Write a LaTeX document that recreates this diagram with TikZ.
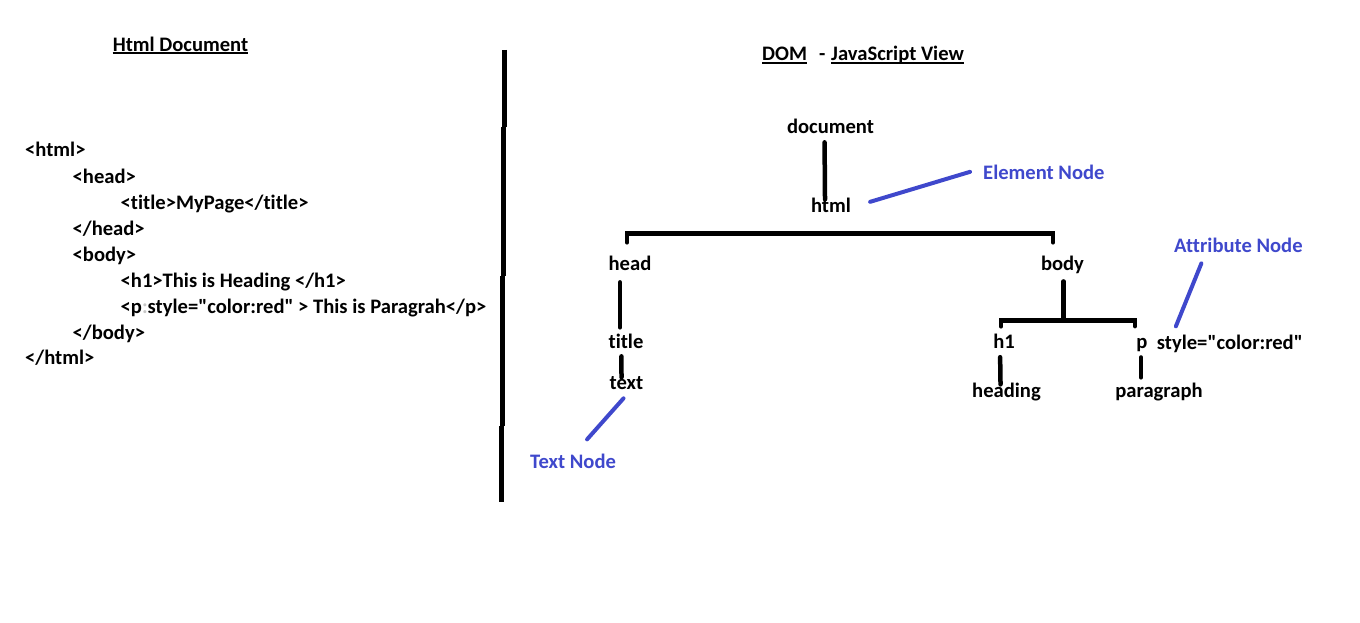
\documentclass[tikz,border=0pt]{standalone}
\usepackage{fontspec}
\setmainfont{Carlito}[Ligatures={TeXOff,NoCommon}]
\definecolor{indigo}{RGB}{63,72,204}
\begin{document}
\begin{tikzpicture}[x=1pt,y=-1pt,
    txt/.style={inner sep=0pt,font=\fontsize{20.6}{24}\selectfont\bfseries},
    note/.style={txt,text=indigo},
    tree/.style={line width=4.5pt,line cap=round},
    pointer/.style={indigo,line width=4pt,line cap=round},
    divider/.style={line width=5pt},
    uline/.style={line width=1.8pt}]
  \useasboundingbox (0,0) rectangle (1360,623);
  \node[txt,anchor=base] (hdoc) at (180.5,51.5) {Html Document};
  \draw[uline] ([yshift=-1.5pt]hdoc.base west) -- ([yshift=-1.5pt]hdoc.base east);
  \node[txt,anchor=base west] (l1) at (25,157) {<html>};
  \node[txt,anchor=base west] (l2) at (72.5,183) {<head>};
  \node[txt,anchor=base west] (l3) at (120.5,209) {<title>MyPage</title>};
  \node[txt,anchor=base west] (l4) at (72.5,235) {</head>};
  \node[txt,anchor=base west] (l5) at (72.5,261) {<body>};
  \node[txt,anchor=base west] (l6) at (120.5,287) {<h1>This is Heading </h1>};
  \node[txt,anchor=base west] (l7) at (120.5,313)
    {<p\textcolor{gray!45}{:}style="color:red" > This is Paragrah</p>};
  \node[txt,anchor=base west] (l8) at (72.5,339) {</body>};
  \node[txt,anchor=base west] (l9) at (25,364) {</html>};
  \draw[divider] (504.3,50) -- (504.3,127);
  \draw[divider] (503.3,127) -- (503.3,276);
  \draw[divider] (502.5,276) -- (502.5,426);
  \draw[divider] (501.5,426) -- (501.5,502);
  \node[txt,anchor=base west] (dom) at (762,61) {DOM};
  \node[txt,anchor=base west] (dash) at (819,61) {-};
  \node[txt,anchor=base west] (jsview) at (831,61) {JavaScript View};
  \draw[uline] ([yshift=-1.8pt]dom.base west) -- ([yshift=-1.8pt]dom.base east);
  \draw[uline] ([yshift=-1.8pt]jsview.base west) -- ([yshift=-1.8pt]jsview.base east);
  \node[txt,anchor=base] (document) at (830.5,134) {document};
  \node[txt,anchor=base] (html) at (831,212) {html};
  \node[txt,anchor=base] (head) at (630,270) {head};
  \node[txt,anchor=base] (body) at (1062.5,270) {body};
  \node[txt,anchor=base] (title) at (626,348) {title};
  \node[txt,anchor=base] (text) at (626.5,389) {text};
  \node[txt,anchor=base] (h1) at (1004,348) {h1};
  \node[txt,anchor=base] (heading) at (1006.5,397) {heading};
  \node[txt,anchor=base] (p) at (1142,348) {p};
  \node[txt,anchor=base] (paragraph) at (1159,397) {paragraph};
  \node[txt,anchor=base west] (style) at (1156.7,349) {style="color:red"};
  \node[note,anchor=base west] (enode) at (983,179) {Element Node};
  \node[note,anchor=base west] (tnode) at (530,468) {Text Node};
  \node[note,anchor=base west] (anode) at (1174,252) {Attribute Node};
  \draw[tree,shorten <=8pt,shorten >=-2pt] ([xshift=-6pt]document.south) -- ([xshift=-6pt]html.north);
  \draw[tree] ([shift={(-3pt,13pt)}]head.north) -- ++(0,-9) -| ([shift={(-9.5pt,13pt)}]body.north);
  \draw[tree,shorten <=12pt,shorten >=6pt] ([xshift=-10pt]head.south) -- ([xshift=-6pt]title.north);
  \draw[tree,shorten <=8pt,shorten >=-1.5pt] ([xshift=-4.6pt]title.south) -- ([xshift=-5pt]text.north);
  \draw[tree,shorten <=8pt] ([xshift=1pt]body.south) -- ([xshift=1pt,yshift=13pt]body.south |- h1.north);
  \draw[tree] ([shift={(-3pt,7pt)}]h1.north) -- ++(0,-6) -| ([shift={(-7pt,11.5pt)}]p.north);
  \draw[tree,shorten <=9pt,shorten >=-2pt] ([xshift=-4pt]h1.south) -- ([xshift=-6pt]heading.north);
  \draw[tree,shorten <=6pt,shorten >=5pt] ([xshift=-1pt]p.south) -- ([xshift=-18pt]paragraph.north);
  \draw[pointer] ([shift={(19pt,3pt)}]html.east) -- ([xshift=-13pt]enode.west);
  \draw[pointer] ([shift={(-3pt,-9pt)}]text.south) -- ([shift={(14pt,14pt)}]tnode.north);
  \draw[pointer] ([shift={(-37pt,-11pt)}]anode.south) -- ([shift={(-54pt,8pt)}]style.north);
\end{tikzpicture}
\end{document}
